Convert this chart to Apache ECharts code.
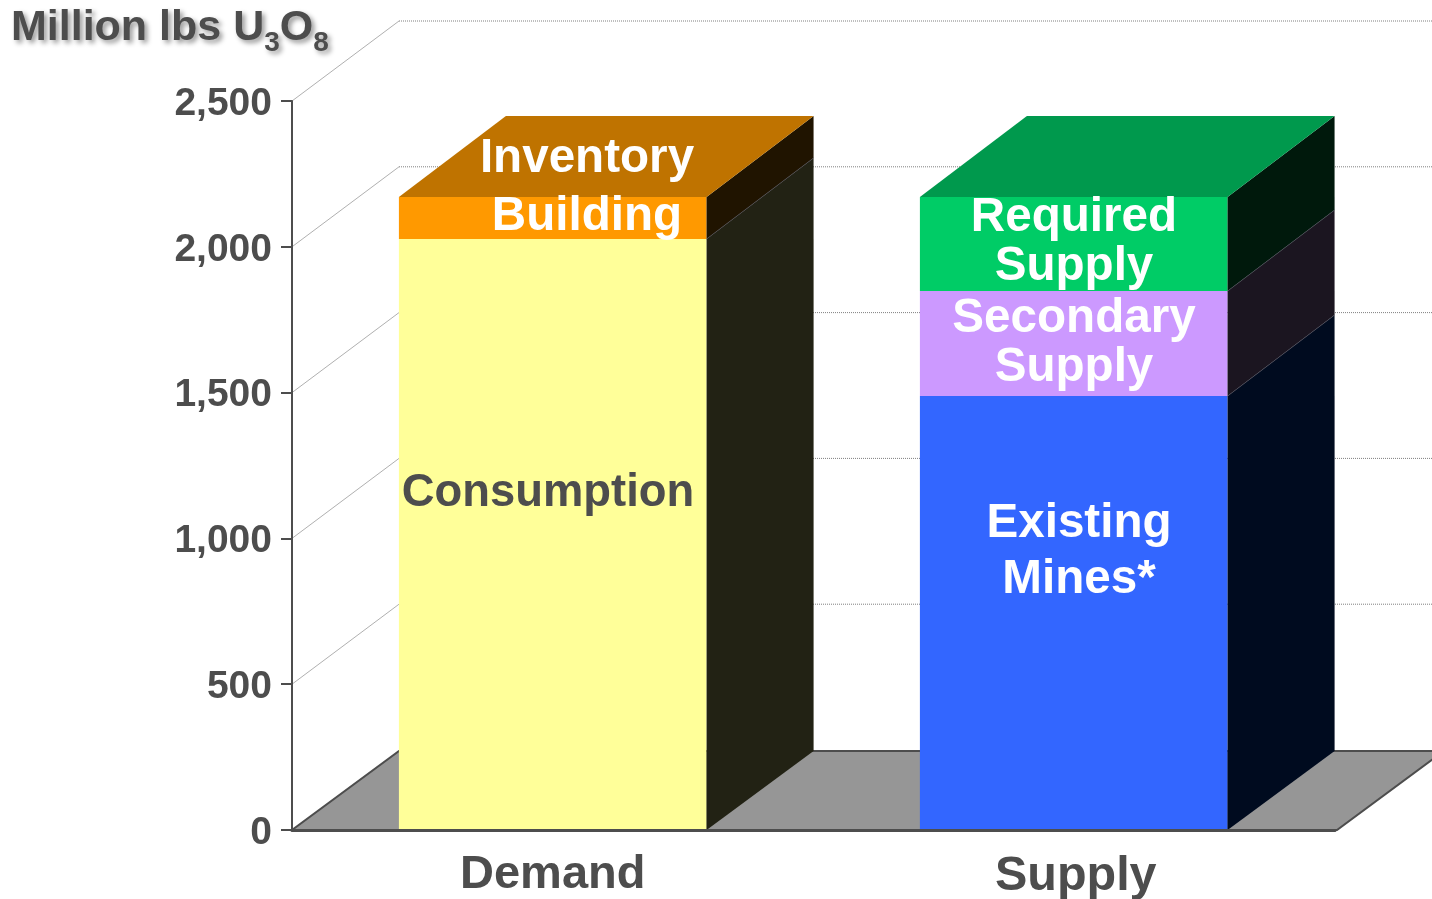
<!DOCTYPE html>
<html>
<head>
<meta charset="utf-8">
<script src="https://cdn.jsdelivr.net/npm/echarts@6/dist/echarts.min.js"></script>
<style>
html, body { margin: 0; padding: 0; background: #fff; }
#main { width: 1432px; height: 899px; }
</style>
</head>
<body>
<div id="main"></div>
<script>
var categories = ['Demand', 'Supply'];
var yTicks = [500, 1000, 1500, 2000, 2500];

// stacks, bottom to top
var demandSegments = ['Consumption', 'Inventory Building'];
var demandValues = [2027, 144];
var supplySegments = ['Existing Mines*', 'Secondary Supply', 'Required Supply'];
var supplyValues = [1488, 360, 323];

var demandFront = ['#ffff99', '#ff9900'];
var demandSide = ['#222214', '#201400'];
var demandTop = '#bf7300';
var supplyFront = ['#3366ff', '#cc99ff', '#00cc66'];
var supplySide = ['#000b1f', '#1b1520', '#00190c'];
var supplyTop = '#00994d';

var textGrey = '#4d4d4d';
var fontName = '"Liberation Sans", Arial, sans-serif';

// the fake 3d offset of the chart box
var depthX = 107;
var depthY = -80;
var floorDepthY = -79;
var barDepthY = -81;

function buildRows(catIndex, values, front, side, topColor) {
    var rows = [];
    var sum = 0;
    for (var i = 0; i < values.length; i++) {
        rows.push([catIndex, sum, sum + values[i], front[i], side[i], i == values.length - 1 ? topColor : '']);
        sum += values[i];
    }
    return rows;
}
var barRows = buildRows(0, demandValues, demandFront, demandSide, demandTop)
    .concat(buildRows(1, supplyValues, supplyFront, supplySide, supplyTop));

function renderWall(params, api) {
    var cs = params.coordSys;
    var p = api.coord([0, api.value(0)]);
    var left = cs.x;
    var right = cs.x + cs.width + 2;
    return {
        type: 'group',
        children: [{
            type: 'line',
            shape: { x1: left, y1: p[1], x2: left + depthX, y2: p[1] + depthY },
            style: { stroke: '#b0b0b0', lineWidth: 1 }
        }, {
            type: 'line',
            shape: { x1: left + depthX, y1: p[1] + depthY, x2: right + depthX, y2: p[1] + depthY },
            style: { stroke: '#808080', lineWidth: 1, lineDash: [1, 1] }
        }]
    };
}

function renderFloor(params, api) {
    var cs = params.coordSys;
    var y = api.coord([0, api.value(0)])[1];
    var left = cs.x;
    var right = cs.x + cs.width + 2;
    return {
        type: 'polygon',
        shape: { points: [[left, y], [right, y], [right + depthX, y + floorDepthY], [left + depthX, y + floorDepthY]] },
        style: { fill: '#969696', stroke: textGrey, lineWidth: 2 }
    };
}

function renderBar(params, api) {
    var center = api.coord([api.value(0), 0])[0];
    if (api.value(0) == 1) center -= 0.5;
    var w = api.size([1, 0])[0] * 0.59;
    var x0 = center - w / 2;
    var x1 = center + w / 2;
    var yLow = api.coord([api.value(0), api.value(1)])[1];
    var yHigh = api.coord([api.value(0), api.value(2)])[1];
    var lowDepth = api.value(1) > 0 ? barDepthY : floorDepthY;
    var kids = [{
        type: 'rect',
        shape: { x: x0, y: yHigh, width: w, height: yLow - yHigh },
        style: { fill: api.value(3) }
    }, {
        type: 'polygon',
        shape: { points: [[x1, yLow], [x1 + depthX, yLow + lowDepth], [x1 + depthX, yHigh + barDepthY], [x1, yHigh]] },
        style: { fill: api.value(4) }
    }];
    if (api.value(1) > 0) {
        kids.push({
            type: 'line',
            shape: { x1: x1, y1: yLow, x2: x1 + depthX, y2: yLow + barDepthY },
            style: { stroke: '#4a4a58', lineWidth: 0.6 }
        });
    }
    if (api.value(5)) {
        kids.push({
            type: 'polygon',
            shape: { points: [[x0, yHigh], [x1, yHigh], [x1 + depthX, yHigh + barDepthY], [x0 + depthX, yHigh + barDepthY]] },
            style: { fill: api.value(5) }
        });
    }
    return { type: 'group', children: kids };
}

function segmentText(str, cx, cy, color, size) {
    return {
        type: 'text',
        x: cx,
        y: cy,
        z: 50,
        style: {
            text: str,
            fill: color || '#fff',
            font: 'bold ' + (size || 47.6) + 'px ' + fontName,
            align: 'center',
            verticalAlign: 'middle'
        }
    };
}

var myChart = echarts.init(document.getElementById('main'), null, { renderer: 'canvas' });
var titleShadow = { textShadowColor: 'rgba(0,0,0,0.4)', textShadowBlur: 5, textShadowOffsetX: 3, textShadowOffsetY: 3 };
var option = {
    animation: false,
    backgroundColor: '#fff',
    title: {
        left: 11,
        top: -11,
        padding: 0,
        text: '{a|Million lbs U}{s|3}{a|O}{s|8}',
        textStyle: {
            rich: {
                a: Object.assign({ color: textGrey, fontFamily: fontName, fontWeight: 'bold', fontSize: 43, height: 48 }, titleShadow),
                s: Object.assign({ color: textGrey, fontFamily: fontName, fontWeight: 'bold', fontSize: 28, height: 48, padding: [30, 0, 0, 0] }, titleShadow)
            }
        }
    },
    grid: { left: 292, top: 101, width: 1043, height: 729, outerBoundsMode: 'none' },
    xAxis: {
        type: 'category',
        data: categories,
        z: 10,
        axisTick: { show: false },
        axisLine: { show: true, lineStyle: { color: textGrey, width: 3 } },
        axisLabel: {
            margin: 22,
            formatter: function (name) {
                return '{' + (name == 'Demand' ? 'd' : 's') + '|' + name + '}';
            },
            rich: {
                d: { color: textGrey, fontFamily: fontName, fontWeight: 'bold', fontSize: 47 },
                s: { color: textGrey, fontFamily: fontName, fontWeight: 'bold', fontSize: 48.5, padding: [0, 0, 0, 3] }
            }
        }
    },
    yAxis: {
        type: 'value',
        min: 0,
        max: 2500,
        interval: 500,
        z: 10,
        splitLine: { show: false },
        axisLine: { show: true, lineStyle: { color: textGrey, width: 2 } },
        axisTick: { show: true, length: 11, lineStyle: { color: textGrey, width: 2 } },
        axisLabel: {
            margin: 20,
            formatter: function (v) {
                return '{v|' + v.toLocaleString('en-US') + '}';
            },
            rich: {
                v: { color: textGrey, fontFamily: fontName, fontWeight: 'bold', fontSize: 39, padding: [6, 0, 0, 0] }
            }
        }
    },
    series: [{
        type: 'custom',
        name: 'wall',
        z: 1,
        silent: true,
        renderItem: renderWall,
        encode: { y: 0 },
        data: yTicks
    }, {
        type: 'custom',
        name: 'floor',
        z: 2,
        silent: true,
        renderItem: renderFloor,
        encode: { y: 0 },
        data: [0]
    }, {
        type: 'custom',
        name: 'bars',
        z: 3,
        silent: true,
        renderItem: renderBar,
        encode: { x: 0, y: [1, 2] },
        dimensions: ['cat', 'low', 'high', { name: 'front', type: 'ordinal' }, { name: 'side', type: 'ordinal' }, { name: 'top', type: 'ordinal' }],
        data: barRows
    }],
    graphic: [
        segmentText('Inventory', 587, 159),
        segmentText('Building', 587, 217),
        segmentText('Consumption', 548, 493, textGrey, 45.4),
        segmentText('Required', 1074, 218),
        segmentText('Supply', 1074, 267),
        segmentText('Secondary', 1074, 319),
        segmentText('Supply', 1074, 368),
        segmentText('Existing', 1079, 524),
        segmentText('Mines*', 1079, 580)
    ]
};
myChart.setOption(option);
</script>
</body>
</html>
